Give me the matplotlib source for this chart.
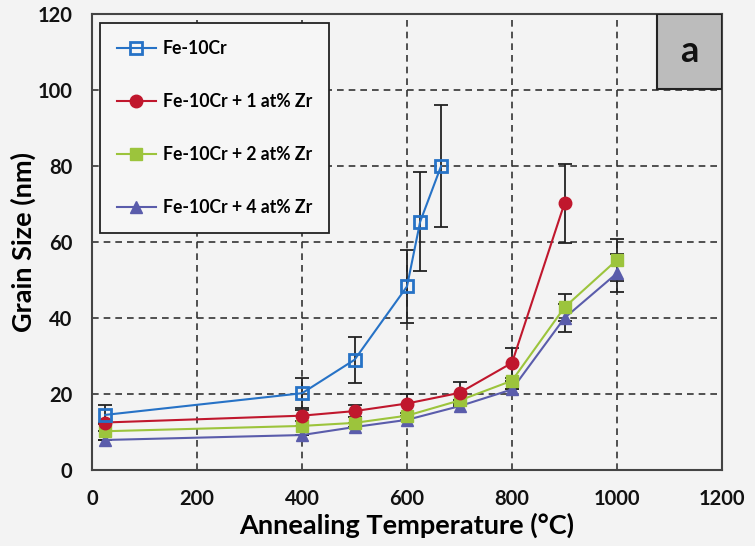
import matplotlib
matplotlib.use("Agg")
import matplotlib.pyplot as plt
from matplotlib.patches import Rectangle

# --- data ---
labels = ["Fe-10Cr", "Fe-10Cr + 1 at% Zr", "Fe-10Cr + 2 at% Zr", "Fe-10Cr + 4 at% Zr"]

t_fe = [25, 400, 500, 600, 625, 665]
g_fe = [14.5, 20.2, 29, 48.3, 65.3, 80]
e_fe = [2.5, 4, 6, 9.6, 13, 16]

t_zr1 = [25, 400, 500, 600, 700, 800, 900]
g_zr1 = [12.5, 14.3, 15.5, 17.5, 20.3, 28.2, 70.2]
e_zr1 = [0, 1.5, 1.5, 2.5, 2.8, 4, 10.4]

t_zr2 = [25, 400, 500, 600, 700, 800, 900, 1000]
g_zr2 = [10.2, 11.6, 12.4, 14.3, 18.3, 23.5, 42.8, 55.3]
e_zr2 = [0, 0, 0, 0, 0, 0, 3.5, 5.5]

t_zr4 = [25, 400, 500, 600, 700, 800, 900, 1000]
g_zr4 = [7.9, 9.2, 11.3, 13.2, 16.8, 21.2, 40, 51.8]
e_zr4 = [0, 0, 0, 0, 0, 0, 3.7, 5]

colors = ["#2672c6", "#c0172d", "#9cc43c", "#5a5cab"]

plt.rcParams['font.family'] = ['Lato', 'DejaVu Sans']
plt.rcParams['font.weight'] = 'bold'

fig = plt.figure(figsize=(7.55, 5.46), dpi=100, facecolor="#f3f3f3")
ax = fig.add_axes([92/755, 76/546, 630/755, 456/546])
ax.set_facecolor("#f3f3f3")

series = [
    (t_fe, g_fe, e_fe, 's', 'none'),
    (t_zr1, g_zr1, e_zr1, 'o', colors[1]),
    (t_zr2, g_zr2, e_zr2, 's', colors[2]),
    (t_zr4, g_zr4, e_zr4, '^', colors[3]),
]
handles = []
for i, (t, g, e, m, fc) in enumerate(series):
    ax.errorbar(t, g, yerr=e, fmt='none', ecolor='#222222', elinewidth=1.3,
                capsize=5, capthick=1.3, zorder=3)
    h, = ax.plot(t, g, color=colors[i], lw=1.5, marker=m, ms=9 if m != 's' else 8,
                 mfc=fc, mec=colors[i], mew=2 if i == 0 else 1, zorder=4 + (3 - i),
                 label=labels[i])
    handles.append(h)

ax.set_xlim(0, 1200)
ax.set_ylim(0, 120)
ax.set_xticks(range(0, 1201, 200))
ax.set_yticks(range(0, 121, 20))
ax.tick_params(length=0, labelsize=14.5, colors='#111111')
ax.tick_params(axis='x', pad=14)
ax.tick_params(axis='y', pad=14)
ax.grid(True, color='#333333', linestyle=(0, (4, 3)), linewidth=1.2)
ax.set_axisbelow(True)
for s in ax.spines.values():
    s.set_color('#444444')
    s.set_linewidth(1.5)

ax.set_xlabel("Annealing Temperature (°C)", fontsize=19.5, fontweight='bold', labelpad=2)
ax.set_ylabel("Grain Size (nm)", fontsize=19.5, fontweight='bold', labelpad=1)

leg = ax.legend(handles=handles, loc='upper left', bbox_to_anchor=(0.0127, 0.98),
                borderaxespad=0, fontsize=12.7, labelspacing=2.05, handlelength=2.2,
                handletextpad=0.4, borderpad=0.95,
                fancybox=False, edgecolor='#222222', facecolor='#f6f6f6', framealpha=1)
leg.get_frame().set_linewidth(1.3)

ax.add_patch(Rectangle((0.897, 0.836), 0.103, 0.164, transform=ax.transAxes,
                       facecolor='#bcbcbc', edgecolor='#222222', lw=1.5, zorder=6))
ax.text(0.9485, 0.918, "a", transform=ax.transAxes, ha='center', va='center',
        fontsize=26, fontweight='bold', color='#111111', zorder=7)

fig.savefig("out.png", dpi=100, facecolor=fig.get_facecolor())
